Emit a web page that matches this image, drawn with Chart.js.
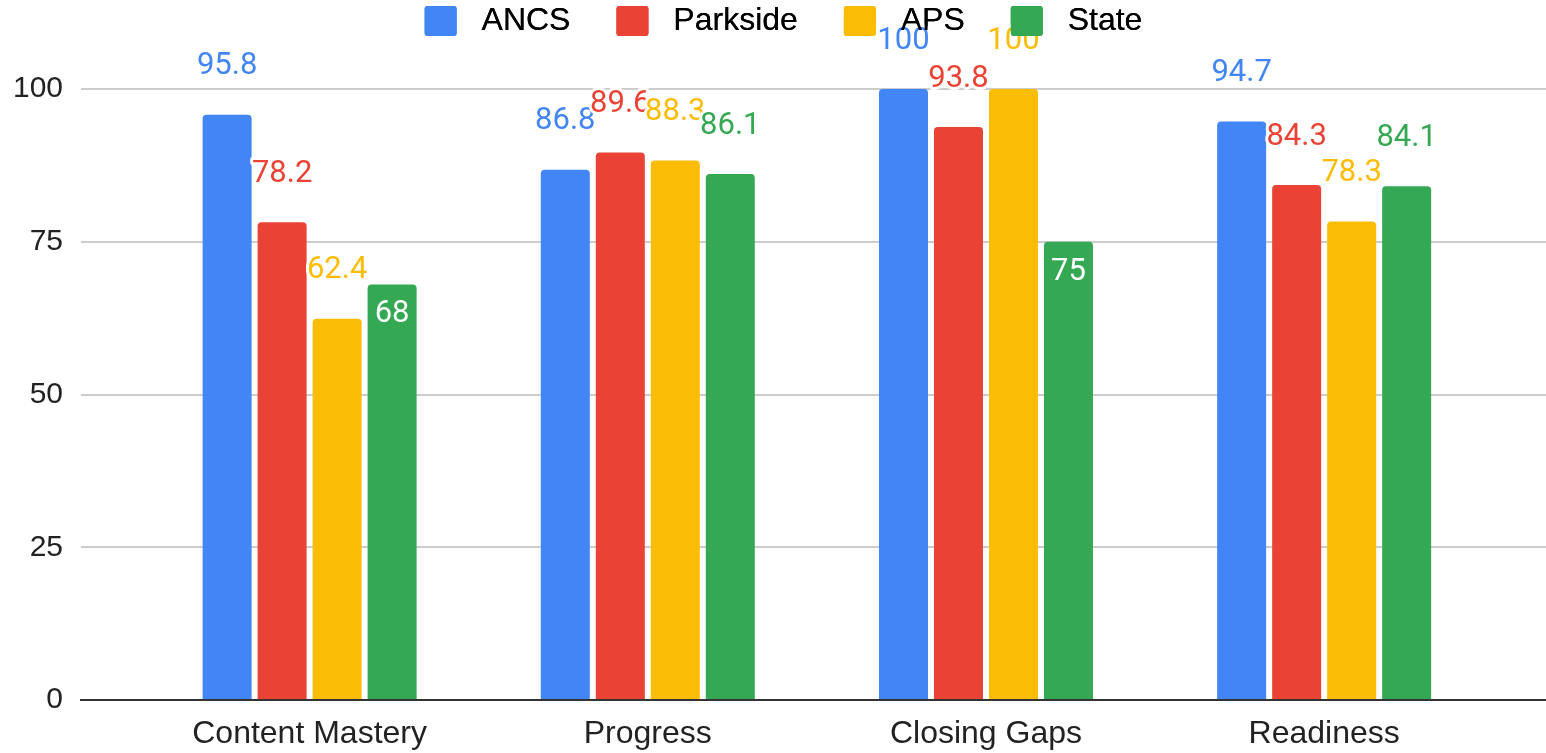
<!DOCTYPE html>
<html>
<head>
<meta charset="utf-8">
<script src="https://cdn.jsdelivr.net/npm/chart.js@4.4.1/dist/chart.umd.min.js"></script>
<style>
  html, body { margin: 0; padding: 0; background: #fff; }
  #wrap { width: 1546px; height: 753px; position: relative; }
</style>
</head>
<body>
<div id="wrap"><canvas id="chart"></canvas></div>
<script>
const categories = ['Content Mastery', 'Progress', 'Closing Gaps', 'Readiness'];
const seriesNames = ['ANCS', 'Parkside', 'APS', 'State'];
const ancs = [95.8, 86.8, 100, 94.7];
const parkside = [78.2, 89.6, 93.8, 84.3];
const aps = [62.4, 88.3, 100, 78.3];
const state = [68, 86.1, 75, 84.1];
const yTicks = [0, 25, 50, 75, 100];

const colors = ['#4285f4', '#ea4335', '#fbbc04', '#34a853'];
const sans = "'Liberation Sans', Arial, sans-serif";
const labelFont = "31px Roboto, 'Liberation Sans', sans-serif";

// value labels: above the bar in series colour with a white halo,
// or white inside the bar when the text fits
const barLabels = {
  id: 'barLabels',
  afterDatasetsDraw(chart) {
    const ctx = chart.ctx;
    ctx.save();
    ctx.font = labelFont;
    ctx.textAlign = 'center';
    ctx.textBaseline = 'middle';
    ctx.lineJoin = 'round';
    chart.data.datasets.forEach((ds, di) => {
      chart.getDatasetMeta(di).data.forEach((bar, i) => {
        const txt = String(ds.data[i].y);
        const w = ctx.measureText(txt).width;
        if (w + 10 < bar.width) {
          ctx.fillStyle = '#fff';
          ctx.fillText(txt, bar.x, bar.y + 30);
        } else {
          ctx.strokeStyle = '#fff';
          ctx.lineWidth = 6;
          ctx.strokeText(txt, bar.x, bar.y - 48);
          ctx.fillStyle = ds.backgroundColor;
          ctx.fillText(txt, bar.x, bar.y - 48);
        }
      });
    });
    ctx.restore();
    // the legend sits on top of the labels in the original
    chart.legend.draw();
  }
};

const legendShift = {
  id: 'legendShift',
  afterLayout(chart) {
    const lg = chart.legend;
    lg.top -= 42; lg.bottom -= 42;
    lg.left += 4; lg.right += 4;
  }
};

const seriesData = [ancs, parkside, aps, state];

new Chart(document.getElementById('chart'), {
  type: 'bar',
  data: {
    datasets: seriesData.map((vals, i) => ({
      label: seriesNames[i],
      data: vals.map((v, j) => ({ x: j, y: v })),
      backgroundColor: colors[i],
      borderWidth: 0,
      borderRadius: 4,
      categoryPercentage: 0.6505,
      barPercentage: 0.891
    }))
  },
  options: {
    responsive: true,
    maintainAspectRatio: false,
    animation: false,
    events: [],
    layout: { padding: { top: 1, left: 13, right: 0, bottom: 2 } },
    plugins: {
      tooltip: { enabled: false },
      legend: {
        position: 'top',
        labels: {
          boxWidth: 32,
          boxHeight: 30,
          padding: 46,
          color: '#222',
          font: { family: sans, size: 32 },
          generateLabels: chart => chart.data.datasets.map((ds, i) => ({
            text: ' ' + ds.label,
            fillStyle: ds.backgroundColor,
            strokeStyle: ds.backgroundColor,
            lineWidth: 0,
            hidden: false,
            datasetIndex: i,
            borderRadius: 3
          }))
        }
      }
    },
    scales: {
      x: {
        type: 'linear',
        offset: false,
        bounds: 'data',
        min: -0.676,
        max: 3.656,
        afterBuildTicks: s => { s.ticks = categories.map((c, i) => ({ value: i })); },
        afterFit: s => { s.height = 51; },
        ticks: {
          callback: v => categories[v],
          padding: 15,
          color: '#222',
          font: { family: sans, size: 32 },
          maxRotation: 0,
          autoSkip: false
        },
        grid: { display: false, drawTicks: false },
        border: { display: true, color: '#333', width: 2 }
      },
      y: {
        min: 0,
        max: 100,
        afterBuildTicks: s => { s.ticks = yTicks.map(v => ({ value: v })); },
        afterFit: s => { s.width = 68; },
        ticks: { padding: 18, color: '#222', font: { family: sans, size: 30 } },
        grid: { color: '#ccc', lineWidth: 2, drawTicks: false },
        border: { display: false }
      }
    }
  },
  plugins: [barLabels, legendShift]
});
</script>
</body>
</html>
